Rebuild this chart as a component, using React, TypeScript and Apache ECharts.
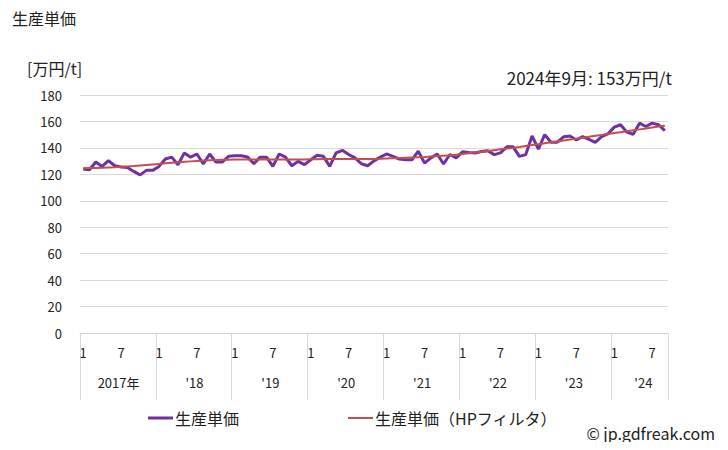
import React, { useEffect, useRef } from "react";
import * as echarts from "echarts";

const FONT = "'Noto Sans CJK JP', 'Noto Sans', sans-serif";

const yearLabels = ["2017年", "'18", "'19", "'20", "'21", "'22", "'23", "'24"];
const startYear = 2017;
const monthCount = 93; // 2017/1 .. 2024/9

const categories: string[] = [];
for (let i = 0; i < monthCount; i++) {
  const y = startYear + Math.floor(i / 12);
  const m = (i % 12) + 1;
  categories.push(`${y}/${m}`);
}

const unitPrice = [
  124, 123.5, 129.3, 126, 130.3, 126.5, 125.5, 125.2, 122.2, 119.6, 123, 123,
  126, 131.6, 133, 127.3, 136.2, 133, 135.4, 127.8, 135.4, 129.3, 129.3, 133.6,
  134.1, 134.1, 133.1, 128, 133, 133, 126, 135.4, 133, 126.5, 129.8, 127.3,
  131, 134.4, 133.6, 126, 136.2, 138.2, 135, 132.4, 128, 126.5, 130.2, 133,
  135.4, 133.6, 131.6, 131, 131, 137.5, 128.5, 132.4, 135.4, 127.8, 135, 132.4,
  137, 136.5, 136.2, 137.3, 137.8, 134.9, 136.2, 140.8, 140.8, 133.6, 134.9, 149,
  139, 150, 144.3, 144.3, 148.4, 149, 146, 148.5, 146.5, 144.2, 148.5, 150.6,
  155.7, 157.5, 151.9, 150.3, 158.7, 156.2, 158.7, 157.5, 153,
];

const hpTrend = [
  124.6, 124.7, 124.8, 125.0, 125.2, 125.4, 125.7, 126.0, 126.3, 126.7, 127.1, 127.5,
  127.9, 128.3, 128.7, 129.1, 129.5, 129.8, 130.1, 130.4, 130.6, 130.8, 131.0, 131.1,
  131.2, 131.3, 131.3, 131.3, 131.3, 131.3, 131.3, 131.3, 131.3, 131.3, 131.3, 131.3,
  131.4, 131.5, 131.6, 131.6, 131.6, 131.6, 131.6, 131.6, 131.6, 131.6, 131.6, 131.8,
  132.0, 132.2, 132.4, 132.6, 132.8, 133.0, 133.2, 133.5, 133.8, 134.1, 134.4, 134.9,
  135.4, 135.9, 136.5, 137.1, 137.7, 138.3, 138.9, 139.5, 140.1, 140.7, 141.4, 142.1,
  142.8, 143.5, 144.2, 144.9, 145.6, 146.3, 147.0, 147.7, 148.4, 149.1, 149.8, 150.5,
  151.2, 151.9, 152.6, 153.3, 154.0, 154.7, 155.4, 156.1, 156.8,
];

const yMin = 0;
const yMax = 180;
const yInterval = 20;

const seriesName1 = "生産単価";
const seriesName2 = "生産単価（HPフィルタ）";
const titleText = "生産単価";
const unitText = "[万円/t]";
const latestText = "2024年9月: 153万円/t";
const creditText = "© jp.gdfreak.com";

export default function App() {
  const ref = useRef<HTMLDivElement>(null);

  useEffect(() => {
    if (!ref.current) return;
    const chart = echarts.init(ref.current, undefined, { renderer: "svg" });
    const textColor = "#222";
    chart.setOption({
      animation: false,
      backgroundColor: "#ffffff",
      textStyle: { fontFamily: FONT },
      graphic: [
        { type: "text", left: 12, top: 10, style: { text: titleText, font: `16px ${FONT}`, fill: textColor } },
        { type: "text", left: 27, top: 60, style: { text: unitText, font: `16px ${FONT}`, fill: textColor } },
        { type: "text", right: 56, top: 69, style: { text: latestText, font: `17px ${FONT}`, fill: textColor } },
        { type: "text", right: 13, top: 425, style: { text: creditText, font: `16px ${FONT}`, fill: textColor } },
      ],
      legend: [
        {
          left: 143,
          top: 405,
          data: [seriesName1],
          icon: "rect",
          itemWidth: 25,
          itemHeight: 3,
          itemGap: 0,
          textStyle: { fontSize: 16, color: textColor, fontFamily: FONT, padding: [0, 0, 0, -3] },
        },
        {
          left: 343,
          top: 405,
          data: [seriesName2],
          icon: "rect",
          itemWidth: 25,
          itemHeight: 2,
          itemGap: 0,
          textStyle: { fontSize: 16, color: textColor, fontFamily: FONT, padding: [0, 0, 0, -3] },
        },
      ],
      grid: { left: 80, right: 60, top: 95, bottom: 117, containLabel: false },
      xAxis: [
        {
          type: "category",
          data: categories,
          boundaryGap: true,
          axisLine: { show: true, lineStyle: { color: "#d0d0d0", width: 1 } },
          axisTick: {
            show: true,
            length: 67,
            interval: (idx: number) => idx % 12 === 0,
            lineStyle: { color: "#d9d9d9", width: 1 },
          },
          axisLabel: {
            show: true,
            interval: (idx: number) => idx % 6 === 0,
            formatter: (v: string) => v.split("/")[1],
            margin: 13,
            fontSize: 13,
            color: textColor,
            fontFamily: FONT,
          },
          splitLine: { show: false },
        },
        {
          type: "category",
          data: categories,
          boundaryGap: true,
          position: "bottom",
          axisLine: { show: false },
          axisTick: { show: false },
          axisLabel: {
            show: true,
            interval: (idx: number) => (idx % 12 === 6 && idx < 84) || idx === 89,
            formatter: (_v: string, idx: number) => yearLabels[Math.floor(idx / 12)],
            margin: 43,
            fontSize: 13,
            color: textColor,
            fontFamily: FONT,
            padding: [0, 5, 0, 0],
          },
          splitLine: { show: false },
        },
      ],
      yAxis: {
        type: "value",
        min: yMin,
        max: yMax,
        interval: yInterval,
        axisLine: { show: false },
        axisTick: { show: false },
        axisLabel: { margin: 18, fontSize: 13, color: textColor, fontFamily: FONT },
        splitLine: { show: true, lineStyle: { color: "#d9d9d9", width: 1 } },
      },
      series: [
        {
          name: seriesName1,
          type: "line",
          xAxisIndex: 0,
          data: unitPrice,
          showSymbol: false,
          symbol: "none",
          lineStyle: { color: "#7030a0", width: 3 },
          itemStyle: { color: "#7030a0" },
          z: 2,
        },
        {
          name: seriesName2,
          type: "line",
          xAxisIndex: 0,
          data: hpTrend,
          showSymbol: false,
          symbol: "none",
          lineStyle: { color: "#c0504d", width: 2 },
          itemStyle: { color: "#c0504d" },
          z: 3,
        },
      ],
    });
    return () => chart.dispose();
  }, []);

  return <div ref={ref} style={{ width: 728, height: 450, margin: -8 }} />;
}
